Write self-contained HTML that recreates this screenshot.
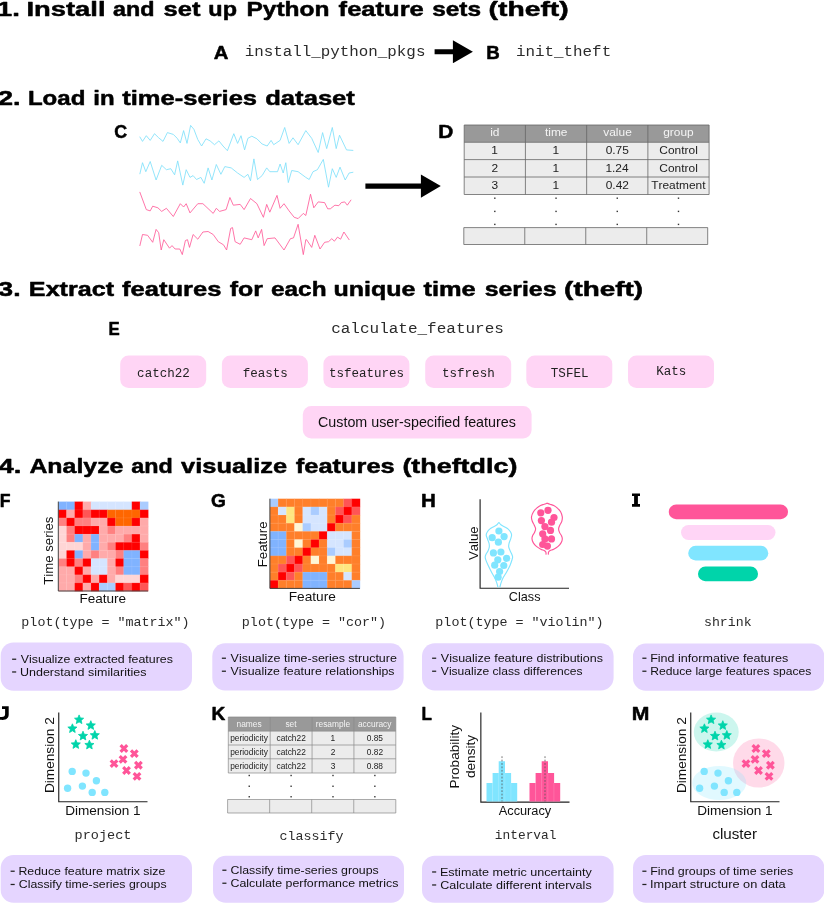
<!DOCTYPE html>
<html><head><meta charset="utf-8"><title>theft workflow</title>
<style>
html,body{margin:0;padding:0;background:#fff;}
body{width:824px;height:907px;overflow:hidden;font-family:"Liberation Sans",sans-serif;}
svg{display:block;will-change:transform;}
text{white-space:pre;font-kerning:none;}
</style></head><body>
<svg width="824" height="907" viewBox="0 0 824 907">
<rect width="824" height="907" fill="#fff"/>
<text transform="translate(-3.16 16.0) scale(1.3427 1)" font-family='"Liberation Sans", sans-serif' font-size="20.6" font-weight="bold" fill="#000" stroke="#000" stroke-width="0.5" stroke-linejoin="round">1.</text>
<text transform="translate(26.47 16.0) scale(1.3279 1)" font-family='"Liberation Sans", sans-serif' font-size="20.6" font-weight="bold" fill="#000" stroke="#000" stroke-width="0.5" stroke-linejoin="round">Install</text>
<text transform="translate(113.05 16.0) scale(1.1341 1)" font-family='"Liberation Sans", sans-serif' font-size="20.6" font-weight="bold" fill="#000" stroke="#000" stroke-width="0.5" stroke-linejoin="round">and</text>
<text transform="translate(163.61 16.0) scale(1.2353 1)" font-family='"Liberation Sans", sans-serif' font-size="20.6" font-weight="bold" fill="#000" stroke="#000" stroke-width="0.5" stroke-linejoin="round">set</text>
<text transform="translate(208.34 16.0) scale(1.1377 1)" font-family='"Liberation Sans", sans-serif' font-size="20.6" font-weight="bold" fill="#000" stroke="#000" stroke-width="0.5" stroke-linejoin="round">up</text>
<text transform="translate(246.40 16.0) scale(1.1913 1)" font-family='"Liberation Sans", sans-serif' font-size="20.6" font-weight="bold" fill="#000" stroke="#000" stroke-width="0.5" stroke-linejoin="round">Python</text>
<text transform="translate(338.62 16.0) scale(1.2413 1)" font-family='"Liberation Sans", sans-serif' font-size="20.6" font-weight="bold" fill="#000" stroke="#000" stroke-width="0.5" stroke-linejoin="round">feature</text>
<text transform="translate(432.15 16.0) scale(1.1852 1)" font-family='"Liberation Sans", sans-serif' font-size="20.6" font-weight="bold" fill="#000" stroke="#000" stroke-width="0.5" stroke-linejoin="round">sets</text>
<text transform="translate(488.59 16.0) scale(1.3730 1)" font-family='"Liberation Sans", sans-serif' font-size="20.6" font-weight="bold" fill="#000" stroke="#000" stroke-width="0.5" stroke-linejoin="round">(theft)</text>
<text transform="translate(-1.95 105.2) scale(1.3133 1)" font-family='"Liberation Sans", sans-serif' font-size="20.6" font-weight="bold" fill="#000" stroke="#000" stroke-width="0.5" stroke-linejoin="round">2.</text>
<text transform="translate(27.94 105.2) scale(1.1678 1)" font-family='"Liberation Sans", sans-serif' font-size="20.6" font-weight="bold" fill="#000" stroke="#000" stroke-width="0.5" stroke-linejoin="round">Load</text>
<text transform="translate(93.32 105.2) scale(1.1657 1)" font-family='"Liberation Sans", sans-serif' font-size="20.6" font-weight="bold" fill="#000" stroke="#000" stroke-width="0.5" stroke-linejoin="round">in</text>
<text transform="translate(122.24 105.2) scale(1.2403 1)" font-family='"Liberation Sans", sans-serif' font-size="20.6" font-weight="bold" fill="#000" stroke="#000" stroke-width="0.5" stroke-linejoin="round">time-series</text>
<text transform="translate(265.23 105.2) scale(1.2435 1)" font-family='"Liberation Sans", sans-serif' font-size="20.6" font-weight="bold" fill="#000" stroke="#000" stroke-width="0.5" stroke-linejoin="round">dataset</text>
<text transform="translate(-1.67 295.6) scale(1.2956 1)" font-family='"Liberation Sans", sans-serif' font-size="20.6" font-weight="bold" fill="#000" stroke="#000" stroke-width="0.5" stroke-linejoin="round">3.</text>
<text transform="translate(28.87 295.6) scale(1.2209 1)" font-family='"Liberation Sans", sans-serif' font-size="20.6" font-weight="bold" fill="#000" stroke="#000" stroke-width="0.5" stroke-linejoin="round">Extract</text>
<text transform="translate(122.12 295.6) scale(1.2405 1)" font-family='"Liberation Sans", sans-serif' font-size="20.6" font-weight="bold" fill="#000" stroke="#000" stroke-width="0.5" stroke-linejoin="round">features</text>
<text transform="translate(229.63 295.6) scale(1.2089 1)" font-family='"Liberation Sans", sans-serif' font-size="20.6" font-weight="bold" fill="#000" stroke="#000" stroke-width="0.5" stroke-linejoin="round">for</text>
<text transform="translate(271.03 295.6) scale(1.1829 1)" font-family='"Liberation Sans", sans-serif' font-size="20.6" font-weight="bold" fill="#000" stroke="#000" stroke-width="0.5" stroke-linejoin="round">each</text>
<text transform="translate(333.50 295.6) scale(1.2136 1)" font-family='"Liberation Sans", sans-serif' font-size="20.6" font-weight="bold" fill="#000" stroke="#000" stroke-width="0.5" stroke-linejoin="round">unique</text>
<text transform="translate(423.50 295.6) scale(1.2347 1)" font-family='"Liberation Sans", sans-serif' font-size="20.6" font-weight="bold" fill="#000" stroke="#000" stroke-width="0.5" stroke-linejoin="round">time</text>
<text transform="translate(484.63 295.6) scale(1.2071 1)" font-family='"Liberation Sans", sans-serif' font-size="20.6" font-weight="bold" fill="#000" stroke="#000" stroke-width="0.5" stroke-linejoin="round">series</text>
<text transform="translate(564.10 295.6) scale(1.3553 1)" font-family='"Liberation Sans", sans-serif' font-size="20.6" font-weight="bold" fill="#000" stroke="#000" stroke-width="0.5" stroke-linejoin="round">(theft)</text>
<text transform="translate(-1.41 473.4) scale(1.3269 1)" font-family='"Liberation Sans", sans-serif' font-size="20.6" font-weight="bold" fill="#000" stroke="#000" stroke-width="0.5" stroke-linejoin="round">4.</text>
<text transform="translate(29.38 473.4) scale(1.2087 1)" font-family='"Liberation Sans", sans-serif' font-size="20.6" font-weight="bold" fill="#000" stroke="#000" stroke-width="0.5" stroke-linejoin="round">Analyze</text>
<text transform="translate(131.30 473.4) scale(1.1341 1)" font-family='"Liberation Sans", sans-serif' font-size="20.6" font-weight="bold" fill="#000" stroke="#000" stroke-width="0.5" stroke-linejoin="round">and</text>
<text transform="translate(181.12 473.4) scale(1.2342 1)" font-family='"Liberation Sans", sans-serif' font-size="20.6" font-weight="bold" fill="#000" stroke="#000" stroke-width="0.5" stroke-linejoin="round">visualize</text>
<text transform="translate(295.87 473.4) scale(1.2342 1)" font-family='"Liberation Sans", sans-serif' font-size="20.6" font-weight="bold" fill="#000" stroke="#000" stroke-width="0.5" stroke-linejoin="round">features</text>
<text transform="translate(402.41 473.4) scale(1.3049 1)" font-family='"Liberation Sans", sans-serif' font-size="20.6" font-weight="bold" fill="#000" stroke="#000" stroke-width="0.5" stroke-linejoin="round">(theftdlc)</text>
<text transform="translate(213.84 58.5) scale(1.1277 1)" font-family='"Liberation Sans", sans-serif' font-size="18" font-weight="bold" fill="#000" stroke="#000" stroke-width="0.5" stroke-linejoin="round">A</text>
<text transform="translate(486.24 58.5) scale(1.0383 1)" font-family='"Liberation Sans", sans-serif' font-size="18" font-weight="bold" fill="#000" stroke="#000" stroke-width="0.5" stroke-linejoin="round">B</text>
<text transform="translate(114.24 138.3) scale(0.9924 1)" font-family='"Liberation Sans", sans-serif' font-size="18" font-weight="bold" fill="#000" stroke="#000" stroke-width="0.5" stroke-linejoin="round">C</text>
<text transform="translate(438.20 138.3) scale(1.1563 1)" font-family='"Liberation Sans", sans-serif' font-size="18" font-weight="bold" fill="#000" stroke="#000" stroke-width="0.5" stroke-linejoin="round">D</text>
<text transform="translate(108.46 335.2) scale(0.9341 1)" font-family='"Liberation Sans", sans-serif' font-size="18" font-weight="bold" fill="#000" stroke="#000" stroke-width="0.5" stroke-linejoin="round">E</text>
<text transform="translate(-0.30 506.7) scale(0.9804 1)" font-family='"Liberation Sans", sans-serif' font-size="18" font-weight="bold" fill="#000" stroke="#000" stroke-width="0.5" stroke-linejoin="round">F</text>
<text transform="translate(210.89 506.7) scale(1.0617 1)" font-family='"Liberation Sans", sans-serif' font-size="18" font-weight="bold" fill="#000" stroke="#000" stroke-width="0.5" stroke-linejoin="round">G</text>
<text transform="translate(421.02 506.7) scale(1.1394 1)" font-family='"Liberation Sans", sans-serif' font-size="18" font-weight="bold" fill="#000" stroke="#000" stroke-width="0.5" stroke-linejoin="round">H</text>
<path d="M632 493.5h8v2.6h-2.1v8h2.1v2.6h-8v-2.6h2.1v-8h-2.1z" fill="#000"/>
<path d="M2 706.3H8.7V714.6C8.7 718.4 6.2 719.9 2.6 719.9C1 719.9-1 719.7-2 719.4V716.6C-1 716.9 0.4 717.1 1.7 717.1C4.2 717.1 5.1 716.1 5.1 714.1V708.9H2Z" fill="#000"/>
<text transform="translate(211.51 719.7) scale(1.0594 1)" font-family='"Liberation Sans", sans-serif' font-size="18" font-weight="bold" fill="#000" stroke="#000" stroke-width="0.5" stroke-linejoin="round">K</text>
<text transform="translate(421.54 719.7) scale(0.9493 1)" font-family='"Liberation Sans", sans-serif' font-size="18" font-weight="bold" fill="#000" stroke="#000" stroke-width="0.5" stroke-linejoin="round">L</text>
<text transform="translate(631.78 719.7) scale(1.1746 1)" font-family='"Liberation Sans", sans-serif' font-size="18" font-weight="bold" fill="#000" stroke="#000" stroke-width="0.5" stroke-linejoin="round">M</text>
<text transform="translate(244.69 55.7) scale(1.0578 1)" font-family='"Liberation Mono", monospace' font-size="15" font-weight="normal" fill="#2b2b2b">install_python_pkgs</text>
<text transform="translate(515.89 55.7) scale(1.0598 1)" font-family='"Liberation Mono", monospace' font-size="15" font-weight="normal" fill="#2b2b2b">init_theft</text>
<path d="M434.6 49.349999999999994H452.9V40.3L472.9 51.8L452.9 63.3V54.25H434.6z" fill="#000"/>
<path d="M365.4 183.54999999999998H420.9V174.5L440.8 186.1L420.9 197.7V188.65H365.4z" fill="#000"/>
<polyline points="139.9,137.0 142.5,141.4 146.3,135.7 150.2,140.4 154.5,133.7 158.7,137.8 163.0,141.4 167.4,132.6 173.3,134.4 177.2,138.3 180.3,142.9 183.6,130.6 187.0,143.4 190.6,125.4 193.9,129.3 197.8,139.6 201.6,146.0 206.0,138.8 210.1,140.9 214.5,144.7 218.9,140.9 223.0,146.0 227.4,150.7 233.8,133.7 237.6,143.4 241.0,135.7 244.6,149.9 247.9,138.3 251.8,136.2 256.9,138.8 262.1,144.0 267.2,146.0 271.1,140.4 273.7,144.7 280.1,140.4 284.7,127.5 289.1,143.4 293.0,137.8 298.1,144.7 305.8,130.6 311.7,138.3 318.2,152.5 322.6,132.6 326.7,148.6 332.3,127.5 336.2,148.6 339.5,135.2 346.5,149.9 352.9,150.4" fill="none" stroke="#7fe0fa" stroke-width="0.85" stroke-linejoin="round" stroke-linecap="round"/>
<polyline points="139.9,173.8 142.5,162.7 145.8,171.7 150.2,161.5 156.1,180.0 161.7,165.3 166.4,169.7 170.8,168.7 174.6,174.8 177.7,160.9 182.8,185.1 186.2,169.7 190.0,177.4 193.1,175.6 196.5,179.5 200.9,177.4 204.2,183.3 208.1,167.9 211.9,180.0 216.3,164.5 220.9,174.3 224.8,166.6 231.2,167.9 237.6,173.0 244.1,177.4 247.9,174.3 250.5,180.8 253.9,158.9 257.5,179.5 262.1,175.6 266.7,167.9 269.8,171.7 277.5,171.7 280.1,164.0 283.2,173.0 285.8,162.7 288.3,182.6 291.7,170.5 298.1,171.7 305.8,177.4 309.2,179.5 313.0,171.7 317.4,169.7 323.3,159.4 328.5,187.2 332.3,168.7 336.2,177.4 340.0,167.1 345.2,180.0 349.1,173.0 352.9,172.3" fill="none" stroke="#7fe0fa" stroke-width="0.85" stroke-linejoin="round" stroke-linecap="round"/>
<polyline points="139.9,192.3 146.3,209.6 150.2,210.9 152.7,206.2 157.9,207.8 161.7,211.4 166.4,208.3 173.3,216.5 180.3,203.7 183.6,207.0 186.2,203.7 190.0,212.9 197.8,203.7 202.9,203.7 213.2,213.4 216.3,208.3 219.6,211.4 226.1,209.6 229.9,197.5 233.3,205.2 240.2,204.4 244.1,209.6 250.5,198.5 256.9,203.7 263.4,217.3 266.7,204.4 269.8,212.2 277.0,195.4 280.1,208.3 284.0,203.7 289.1,210.9 294.2,217.3 298.1,218.6 303.3,213.4 305.8,215.5 310.5,194.2 313.8,207.8 318.2,201.9 324.6,202.6 327.7,208.8 330.3,208.8 334.9,205.2 338.8,205.7 341.3,202.6 344.7,201.9 347.3,205.2 350.9,200.1" fill="none" stroke="#ff5c9a" stroke-width="0.85" stroke-linejoin="round" stroke-linecap="round"/>
<polyline points="139.9,245.6 142.5,234.5 147.6,235.3 152.7,242.3 156.1,229.4 158.7,232.7 161.2,250.0 163.8,239.7 169.5,248.2 172.0,245.6 175.1,249.0 179.8,249.0 182.3,254.6 185.4,240.5 187.5,239.7 189.5,247.4 193.1,234.5 197.8,239.2 202.9,232.0 208.1,231.5 213.2,234.5 218.3,241.7 223.5,244.8 226.6,250.0 230.7,228.4 232.5,227.6 235.1,241.7 240.2,244.3 244.1,237.9 251.8,239.7 255.7,230.9 258.2,237.9 261.6,229.4 264.1,245.6 267.2,238.7 275.0,237.9 284.0,250.0 290.4,238.7 293.5,237.9 298.1,224.3 303.3,254.6 305.8,239.7 306.6,239.7 311.7,247.4 314.8,235.3 320.0,249.0 324.6,242.3 328.5,241.7 331.8,238.7 334.4,241.2 337.5,237.1 340.6,239.2 343.9,232.0 349.1,239.7" fill="none" stroke="#ff5c9a" stroke-width="0.85" stroke-linejoin="round" stroke-linecap="round"/>
<rect x="464.2" y="125" width="244.90000000000003" height="17.30000000000001" fill="#999"/>
<rect x="464.2" y="142.3" width="244.90000000000003" height="52.19999999999999" fill="#ececec"/>
<rect x="463.8" y="227.6" width="243.90000000000003" height="16.900000000000006" fill="#ececec"/>
<path d="M464.2 125H709.1M464.2 142.3H709.1M464.2 159.6H709.1M464.2 177H709.1M464.2 194.5H709.1M464.20 125V194.5M525.42 125V194.5M586.65 125V194.5M647.88 125V194.5M709.10 125V194.5M463.8 227.6H707.7M463.8 244.5H707.7M463.80 227.6V244.5M524.77 227.6V244.5M585.75 227.6V244.5M646.73 227.6V244.5M707.70 227.6V244.5" stroke="#666" stroke-width="0.8" fill="none"/>
<text transform="translate(490.19 136.4) scale(1.1700 1)" font-family='"Liberation Sans", sans-serif' font-size="10.2" font-weight="normal" fill="#f4f4f4">id</text>
<text transform="translate(544.94 136.4) scale(1.1700 1)" font-family='"Liberation Sans", sans-serif' font-size="10.2" font-weight="normal" fill="#f4f4f4">time</text>
<text transform="translate(603.27 136.4) scale(1.1700 1)" font-family='"Liberation Sans", sans-serif' font-size="10.2" font-weight="normal" fill="#f4f4f4">value</text>
<text transform="translate(663.24 136.4) scale(1.1700 1)" font-family='"Liberation Sans", sans-serif' font-size="10.2" font-weight="normal" fill="#f4f4f4">group</text>
<text transform="translate(491.32 154.1) scale(1.1700 1)" font-family='"Liberation Sans", sans-serif' font-size="10.2" font-weight="normal" fill="#222">1</text>
<text transform="translate(552.55 154.1) scale(1.1700 1)" font-family='"Liberation Sans", sans-serif' font-size="10.2" font-weight="normal" fill="#222">1</text>
<text transform="translate(605.66 154.1) scale(1.1700 1)" font-family='"Liberation Sans", sans-serif' font-size="10.2" font-weight="normal" fill="#222">0.75</text>
<text transform="translate(659.36 154.1) scale(1.1700 1)" font-family='"Liberation Sans", sans-serif' font-size="10.2" font-weight="normal" fill="#222">Control</text>
<text transform="translate(491.50 171.6) scale(1.1700 1)" font-family='"Liberation Sans", sans-serif' font-size="10.2" font-weight="normal" fill="#222">2</text>
<text transform="translate(552.55 171.6) scale(1.1700 1)" font-family='"Liberation Sans", sans-serif' font-size="10.2" font-weight="normal" fill="#222">1</text>
<text transform="translate(605.39 171.6) scale(1.1700 1)" font-family='"Liberation Sans", sans-serif' font-size="10.2" font-weight="normal" fill="#222">1.24</text>
<text transform="translate(659.36 171.6) scale(1.1700 1)" font-family='"Liberation Sans", sans-serif' font-size="10.2" font-weight="normal" fill="#222">Control</text>
<text transform="translate(491.50 189.2) scale(1.1700 1)" font-family='"Liberation Sans", sans-serif' font-size="10.2" font-weight="normal" fill="#222">3</text>
<text transform="translate(552.55 189.2) scale(1.1700 1)" font-family='"Liberation Sans", sans-serif' font-size="10.2" font-weight="normal" fill="#222">1</text>
<text transform="translate(605.72 189.2) scale(1.1700 1)" font-family='"Liberation Sans", sans-serif' font-size="10.2" font-weight="normal" fill="#222">0.42</text>
<text transform="translate(651.22 189.2) scale(1.1700 1)" font-family='"Liberation Sans", sans-serif' font-size="10.2" font-weight="normal" fill="#222">Treatment</text>
<rect x="494.11" y="197.50" width="1.4" height="1.4" fill="#333"/>
<rect x="555.34" y="197.50" width="1.4" height="1.4" fill="#333"/>
<rect x="616.56" y="197.50" width="1.4" height="1.4" fill="#333"/>
<rect x="677.79" y="197.50" width="1.4" height="1.4" fill="#333"/>
<rect x="494.11" y="210.70" width="1.4" height="1.4" fill="#333"/>
<rect x="555.34" y="210.70" width="1.4" height="1.4" fill="#333"/>
<rect x="616.56" y="210.70" width="1.4" height="1.4" fill="#333"/>
<rect x="677.79" y="210.70" width="1.4" height="1.4" fill="#333"/>
<rect x="494.11" y="223.70" width="1.4" height="1.4" fill="#333"/>
<rect x="555.34" y="223.70" width="1.4" height="1.4" fill="#333"/>
<rect x="616.56" y="223.70" width="1.4" height="1.4" fill="#333"/>
<rect x="677.79" y="223.70" width="1.4" height="1.4" fill="#333"/>
<text transform="translate(331.16 332.7) scale(1.0459 1)" font-family='"Liberation Mono", monospace' font-size="15.3" font-weight="normal" fill="#2b2b2b">calculate_features</text>
<rect x="120.2" y="355.4" width="86" height="32.7" rx="8.5" fill="#ffd5f5"/>
<text transform="translate(137.11 376.5) scale(0.9150 1)" font-family='"Liberation Mono", monospace' font-size="13.7" font-weight="normal" fill="#222">catch22</text>
<rect x="221.9" y="355.4" width="86" height="32.7" rx="8.5" fill="#ffd5f5"/>
<text transform="translate(242.63 376.5) scale(0.9150 1)" font-family='"Liberation Mono", monospace' font-size="13.7" font-weight="normal" fill="#222">feasts</text>
<rect x="323.4" y="355.4" width="86" height="32.7" rx="8.5" fill="#ffd5f5"/>
<text transform="translate(328.93 376.5) scale(0.9150 1)" font-family='"Liberation Mono", monospace' font-size="13.7" font-weight="normal" fill="#222">tsfeatures</text>
<rect x="425.2" y="355.4" width="86" height="32.7" rx="8.5" fill="#ffd5f5"/>
<text transform="translate(442.04 376.5) scale(0.9150 1)" font-family='"Liberation Mono", monospace' font-size="13.7" font-weight="normal" fill="#222">tsfresh</text>
<rect x="526.3" y="355.4" width="86" height="32.7" rx="8.5" fill="#ffd5f5"/>
<text transform="translate(550.85 376.5) scale(0.9150 1)" font-family='"Liberation Mono", monospace' font-size="13.7" font-weight="normal" fill="#222">TSFEL</text>
<rect x="628" y="355.4" width="86" height="32.7" rx="8.5" fill="#ffd5f5"/>
<text transform="translate(656.16 374.7) scale(0.9150 1)" font-family='"Liberation Mono", monospace' font-size="13.7" font-weight="normal" fill="#222">Kats</text>
<rect x="302.8" y="406.1" width="228.8" height="32.3" rx="8.5" fill="#ffd5f5"/>
<text transform="translate(317.98 426.9) scale(1.0225 1)" font-family='"Liberation Sans", sans-serif' font-size="14" font-weight="normal" fill="#111">Custom user-specified features</text>
<rect x="58.30" y="501.60" width="8.46" height="8.43" fill="#80b3ff"/>
<rect x="66.46" y="501.60" width="8.46" height="8.43" fill="#80b3ff"/>
<rect x="74.63" y="501.60" width="8.46" height="8.43" fill="#ff0000"/>
<rect x="82.79" y="501.60" width="8.46" height="8.43" fill="#ffaaaa"/>
<rect x="90.95" y="501.60" width="8.46" height="8.43" fill="#d5e5ff"/>
<rect x="99.12" y="501.60" width="8.46" height="8.43" fill="#d5e5ff"/>
<rect x="107.28" y="501.60" width="8.46" height="8.43" fill="#d5e5ff"/>
<rect x="115.45" y="501.60" width="8.46" height="8.43" fill="#d5e5ff"/>
<rect x="123.61" y="501.60" width="8.46" height="8.43" fill="#d5e5ff"/>
<rect x="131.77" y="501.60" width="8.46" height="8.43" fill="#ff0000"/>
<rect x="139.94" y="501.60" width="8.46" height="8.43" fill="#aaccff"/>
<rect x="58.30" y="509.73" width="8.46" height="8.43" fill="#ff0000"/>
<rect x="66.46" y="509.73" width="8.46" height="8.43" fill="#ffaaaa"/>
<rect x="74.63" y="509.73" width="8.46" height="8.43" fill="#ff0000"/>
<rect x="82.79" y="509.73" width="8.46" height="8.43" fill="#ff5555"/>
<rect x="90.95" y="509.73" width="8.46" height="8.43" fill="#ff0000"/>
<rect x="99.12" y="509.73" width="8.46" height="8.43" fill="#ff0000"/>
<rect x="107.28" y="509.73" width="8.46" height="8.43" fill="#ff6600"/>
<rect x="115.45" y="509.73" width="8.46" height="8.43" fill="#ff6600"/>
<rect x="123.61" y="509.73" width="8.46" height="8.43" fill="#ff6600"/>
<rect x="131.77" y="509.73" width="8.46" height="8.43" fill="#ff6600"/>
<rect x="139.94" y="509.73" width="8.46" height="8.43" fill="#ff0000"/>
<rect x="58.30" y="517.85" width="8.46" height="8.43" fill="#ff8080"/>
<rect x="66.46" y="517.85" width="8.46" height="8.43" fill="#ff0000"/>
<rect x="74.63" y="517.85" width="8.46" height="8.43" fill="#ff8080"/>
<rect x="82.79" y="517.85" width="8.46" height="8.43" fill="#ff8080"/>
<rect x="90.95" y="517.85" width="8.46" height="8.43" fill="#ffaaaa"/>
<rect x="99.12" y="517.85" width="8.46" height="8.43" fill="#ffaaaa"/>
<rect x="107.28" y="517.85" width="8.46" height="8.43" fill="#ff0000"/>
<rect x="115.45" y="517.85" width="8.46" height="8.43" fill="#ff6600"/>
<rect x="123.61" y="517.85" width="8.46" height="8.43" fill="#ff6600"/>
<rect x="131.77" y="517.85" width="8.46" height="8.43" fill="#ff0000"/>
<rect x="139.94" y="517.85" width="8.46" height="8.43" fill="#ffaaaa"/>
<rect x="58.30" y="525.98" width="8.46" height="8.43" fill="#ffd5d5"/>
<rect x="66.46" y="525.98" width="8.46" height="8.43" fill="#ff8080"/>
<rect x="74.63" y="525.98" width="8.46" height="8.43" fill="#ff0000"/>
<rect x="82.79" y="525.98" width="8.46" height="8.43" fill="#ff0000"/>
<rect x="90.95" y="525.98" width="8.46" height="8.43" fill="#ff0000"/>
<rect x="99.12" y="525.98" width="8.46" height="8.43" fill="#ffaaaa"/>
<rect x="107.28" y="525.98" width="8.46" height="8.43" fill="#ff8080"/>
<rect x="115.45" y="525.98" width="8.46" height="8.43" fill="#ffaaaa"/>
<rect x="123.61" y="525.98" width="8.46" height="8.43" fill="#ffaaaa"/>
<rect x="131.77" y="525.98" width="8.46" height="8.43" fill="#ffaaaa"/>
<rect x="139.94" y="525.98" width="8.46" height="8.43" fill="#ffaaaa"/>
<rect x="58.30" y="534.11" width="8.46" height="8.43" fill="#ffd5d5"/>
<rect x="66.46" y="534.11" width="8.46" height="8.43" fill="#ff8080"/>
<rect x="74.63" y="534.11" width="8.46" height="8.43" fill="#80b3ff"/>
<rect x="82.79" y="534.11" width="8.46" height="8.43" fill="#ffaaaa"/>
<rect x="90.95" y="534.11" width="8.46" height="8.43" fill="#80b3ff"/>
<rect x="99.12" y="534.11" width="8.46" height="8.43" fill="#ffaaaa"/>
<rect x="107.28" y="534.11" width="8.46" height="8.43" fill="#ffaaaa"/>
<rect x="115.45" y="534.11" width="8.46" height="8.43" fill="#ffaaaa"/>
<rect x="123.61" y="534.11" width="8.46" height="8.43" fill="#ff8080"/>
<rect x="131.77" y="534.11" width="8.46" height="8.43" fill="#ff0000"/>
<rect x="139.94" y="534.11" width="8.46" height="8.43" fill="#ffaaaa"/>
<rect x="58.30" y="542.24" width="8.46" height="8.43" fill="#ffd5d5"/>
<rect x="66.46" y="542.24" width="8.46" height="8.43" fill="#ffd5d5"/>
<rect x="74.63" y="542.24" width="8.46" height="8.43" fill="#ffd5d5"/>
<rect x="82.79" y="542.24" width="8.46" height="8.43" fill="#ffaaaa"/>
<rect x="90.95" y="542.24" width="8.46" height="8.43" fill="#80b3ff"/>
<rect x="99.12" y="542.24" width="8.46" height="8.43" fill="#ffaaaa"/>
<rect x="107.28" y="542.24" width="8.46" height="8.43" fill="#ff8080"/>
<rect x="115.45" y="542.24" width="8.46" height="8.43" fill="#ff0000"/>
<rect x="123.61" y="542.24" width="8.46" height="8.43" fill="#ff0000"/>
<rect x="131.77" y="542.24" width="8.46" height="8.43" fill="#ff0000"/>
<rect x="139.94" y="542.24" width="8.46" height="8.43" fill="#ff8080"/>
<rect x="58.30" y="550.36" width="8.46" height="8.43" fill="#ffd5d5"/>
<rect x="66.46" y="550.36" width="8.46" height="8.43" fill="#ff0000"/>
<rect x="74.63" y="550.36" width="8.46" height="8.43" fill="#80b3ff"/>
<rect x="82.79" y="550.36" width="8.46" height="8.43" fill="#ffaaaa"/>
<rect x="90.95" y="550.36" width="8.46" height="8.43" fill="#ff8080"/>
<rect x="99.12" y="550.36" width="8.46" height="8.43" fill="#ffaaaa"/>
<rect x="107.28" y="550.36" width="8.46" height="8.43" fill="#ffaaaa"/>
<rect x="115.45" y="550.36" width="8.46" height="8.43" fill="#ff8080"/>
<rect x="123.61" y="550.36" width="8.46" height="8.43" fill="#80b3ff"/>
<rect x="131.77" y="550.36" width="8.46" height="8.43" fill="#80b3ff"/>
<rect x="139.94" y="550.36" width="8.46" height="8.43" fill="#ff0000"/>
<rect x="58.30" y="558.49" width="8.46" height="8.43" fill="#ff8080"/>
<rect x="66.46" y="558.49" width="8.46" height="8.43" fill="#ff0000"/>
<rect x="74.63" y="558.49" width="8.46" height="8.43" fill="#ff8080"/>
<rect x="82.79" y="558.49" width="8.46" height="8.43" fill="#ff0000"/>
<rect x="90.95" y="558.49" width="8.46" height="8.43" fill="#d5e5ff"/>
<rect x="99.12" y="558.49" width="8.46" height="8.43" fill="#d5e5ff"/>
<rect x="107.28" y="558.49" width="8.46" height="8.43" fill="#ffaaaa"/>
<rect x="115.45" y="558.49" width="8.46" height="8.43" fill="#ff0000"/>
<rect x="123.61" y="558.49" width="8.46" height="8.43" fill="#80b3ff"/>
<rect x="131.77" y="558.49" width="8.46" height="8.43" fill="#80b3ff"/>
<rect x="139.94" y="558.49" width="8.46" height="8.43" fill="#ff8080"/>
<rect x="58.30" y="566.62" width="8.46" height="8.43" fill="#ffaaaa"/>
<rect x="66.46" y="566.62" width="8.46" height="8.43" fill="#ffaaaa"/>
<rect x="74.63" y="566.62" width="8.46" height="8.43" fill="#ff0000"/>
<rect x="82.79" y="566.62" width="8.46" height="8.43" fill="#ffaaaa"/>
<rect x="90.95" y="566.62" width="8.46" height="8.43" fill="#d5e5ff"/>
<rect x="99.12" y="566.62" width="8.46" height="8.43" fill="#d5e5ff"/>
<rect x="107.28" y="566.62" width="8.46" height="8.43" fill="#ffaaaa"/>
<rect x="115.45" y="566.62" width="8.46" height="8.43" fill="#ff8080"/>
<rect x="123.61" y="566.62" width="8.46" height="8.43" fill="#80b3ff"/>
<rect x="131.77" y="566.62" width="8.46" height="8.43" fill="#80b3ff"/>
<rect x="139.94" y="566.62" width="8.46" height="8.43" fill="#ff8080"/>
<rect x="58.30" y="574.75" width="8.46" height="8.43" fill="#ffaaaa"/>
<rect x="66.46" y="574.75" width="8.46" height="8.43" fill="#ffaaaa"/>
<rect x="74.63" y="574.75" width="8.46" height="8.43" fill="#ff8080"/>
<rect x="82.79" y="574.75" width="8.46" height="8.43" fill="#ff0000"/>
<rect x="90.95" y="574.75" width="8.46" height="8.43" fill="#ffaaaa"/>
<rect x="99.12" y="574.75" width="8.46" height="8.43" fill="#ff0000"/>
<rect x="107.28" y="574.75" width="8.46" height="8.43" fill="#ffaaaa"/>
<rect x="115.45" y="574.75" width="8.46" height="8.43" fill="#ffd5d5"/>
<rect x="123.61" y="574.75" width="8.46" height="8.43" fill="#ffd5d5"/>
<rect x="131.77" y="574.75" width="8.46" height="8.43" fill="#ffd5d5"/>
<rect x="139.94" y="574.75" width="8.46" height="8.43" fill="#ff0000"/>
<rect x="58.30" y="582.87" width="8.46" height="8.43" fill="#ffaaaa"/>
<rect x="66.46" y="582.87" width="8.46" height="8.43" fill="#ffaaaa"/>
<rect x="74.63" y="582.87" width="8.46" height="8.43" fill="#ff0000"/>
<rect x="82.79" y="582.87" width="8.46" height="8.43" fill="#ffaaaa"/>
<rect x="90.95" y="582.87" width="8.46" height="8.43" fill="#ff0000"/>
<rect x="99.12" y="582.87" width="8.46" height="8.43" fill="#aaccff"/>
<rect x="107.28" y="582.87" width="8.46" height="8.43" fill="#aaccff"/>
<rect x="115.45" y="582.87" width="8.46" height="8.43" fill="#ff0000"/>
<rect x="123.61" y="582.87" width="8.46" height="8.43" fill="#ff5555"/>
<rect x="131.77" y="582.87" width="8.46" height="8.43" fill="#ff0000"/>
<rect x="139.94" y="582.87" width="8.46" height="8.43" fill="#ff5555"/>
<path d="M66.46 501.6V591M58.3 509.73H148.1M74.63 501.6V591M58.3 517.85H148.1M82.79 501.6V591M58.3 525.98H148.1M90.95 501.6V591M58.3 534.11H148.1M99.12 501.6V591M58.3 542.24H148.1M107.28 501.6V591M58.3 550.36H148.1M115.45 501.6V591M58.3 558.49H148.1M123.61 501.6V591M58.3 566.62H148.1M131.77 501.6V591M58.3 574.75H148.1M139.94 501.6V591M58.3 582.87H148.1" stroke="#fff" stroke-opacity="0.18" stroke-width="0.5" fill="none"/>
<path d="M58.3 501.6V591H148.1" stroke="#444" stroke-width="1" fill="none"/>
<text transform="translate(79.42 602.5) scale(1.1295 1)" font-family='"Liberation Sans", sans-serif' font-size="12" font-weight="normal" fill="#111">Feature</text>
<text transform="translate(53 584.76) rotate(-90) scale(1.1008 1)" font-family='"Liberation Sans", sans-serif' font-size="12" font-weight="normal" fill="#111">Time series</text>
<text transform="translate(21.36 625.5) scale(0.9824 1)" font-family='"Liberation Mono", monospace' font-size="13.6" font-weight="normal" fill="#2b2b2b">plot(type = &quot;matrix&quot;)</text>
<rect x="269.90" y="498.70" width="8.48" height="8.45" fill="#aaccff"/>
<rect x="278.08" y="498.70" width="8.48" height="8.45" fill="#ff7f2a"/>
<rect x="286.26" y="498.70" width="8.48" height="8.45" fill="#ff7f2a"/>
<rect x="294.45" y="498.70" width="8.48" height="8.45" fill="#ff7f2a"/>
<rect x="302.63" y="498.70" width="8.48" height="8.45" fill="#ff7f2a"/>
<rect x="310.81" y="498.70" width="8.48" height="8.45" fill="#ff7f2a"/>
<rect x="318.99" y="498.70" width="8.48" height="8.45" fill="#ff7f2a"/>
<rect x="327.17" y="498.70" width="8.48" height="8.45" fill="#ff7f2a"/>
<rect x="335.35" y="498.70" width="8.48" height="8.45" fill="#ff7f2a"/>
<rect x="343.54" y="498.70" width="8.48" height="8.45" fill="#ff5555"/>
<rect x="351.72" y="498.70" width="8.48" height="8.45" fill="#ff0000"/>
<rect x="269.90" y="506.85" width="8.48" height="8.45" fill="#ff7f2a"/>
<rect x="278.08" y="506.85" width="8.48" height="8.45" fill="#d5e5ff"/>
<rect x="286.26" y="506.85" width="8.48" height="8.45" fill="#ffe680"/>
<rect x="294.45" y="506.85" width="8.48" height="8.45" fill="#ff7f2a"/>
<rect x="302.63" y="506.85" width="8.48" height="8.45" fill="#d5e5ff"/>
<rect x="310.81" y="506.85" width="8.48" height="8.45" fill="#aaccff"/>
<rect x="318.99" y="506.85" width="8.48" height="8.45" fill="#d5e5ff"/>
<rect x="327.17" y="506.85" width="8.48" height="8.45" fill="#ff7f2a"/>
<rect x="335.35" y="506.85" width="8.48" height="8.45" fill="#ff5555"/>
<rect x="343.54" y="506.85" width="8.48" height="8.45" fill="#ff0000"/>
<rect x="351.72" y="506.85" width="8.48" height="8.45" fill="#ff5555"/>
<rect x="269.90" y="515.01" width="8.48" height="8.45" fill="#ff7f2a"/>
<rect x="278.08" y="515.01" width="8.48" height="8.45" fill="#ff7f2a"/>
<rect x="286.26" y="515.01" width="8.48" height="8.45" fill="#ffe680"/>
<rect x="294.45" y="515.01" width="8.48" height="8.45" fill="#ff7f2a"/>
<rect x="302.63" y="515.01" width="8.48" height="8.45" fill="#d5e5ff"/>
<rect x="310.81" y="515.01" width="8.48" height="8.45" fill="#d5e5ff"/>
<rect x="318.99" y="515.01" width="8.48" height="8.45" fill="#d5e5ff"/>
<rect x="327.17" y="515.01" width="8.48" height="8.45" fill="#ff7f2a"/>
<rect x="335.35" y="515.01" width="8.48" height="8.45" fill="#ff0000"/>
<rect x="343.54" y="515.01" width="8.48" height="8.45" fill="#ff5555"/>
<rect x="351.72" y="515.01" width="8.48" height="8.45" fill="#ff7f2a"/>
<rect x="269.90" y="523.16" width="8.48" height="8.45" fill="#ff7f2a"/>
<rect x="278.08" y="523.16" width="8.48" height="8.45" fill="#ff7f2a"/>
<rect x="286.26" y="523.16" width="8.48" height="8.45" fill="#ff7f2a"/>
<rect x="294.45" y="523.16" width="8.48" height="8.45" fill="#fff6d5"/>
<rect x="302.63" y="523.16" width="8.48" height="8.45" fill="#aaccff"/>
<rect x="310.81" y="523.16" width="8.48" height="8.45" fill="#d5e5ff"/>
<rect x="318.99" y="523.16" width="8.48" height="8.45" fill="#d5e5ff"/>
<rect x="327.17" y="523.16" width="8.48" height="8.45" fill="#ff0000"/>
<rect x="335.35" y="523.16" width="8.48" height="8.45" fill="#ff7f2a"/>
<rect x="343.54" y="523.16" width="8.48" height="8.45" fill="#ff7f2a"/>
<rect x="351.72" y="523.16" width="8.48" height="8.45" fill="#ff7f2a"/>
<rect x="269.90" y="531.32" width="8.48" height="8.45" fill="#80b3ff"/>
<rect x="278.08" y="531.32" width="8.48" height="8.45" fill="#80b3ff"/>
<rect x="286.26" y="531.32" width="8.48" height="8.45" fill="#ff7f2a"/>
<rect x="294.45" y="531.32" width="8.48" height="8.45" fill="#ff7f2a"/>
<rect x="302.63" y="531.32" width="8.48" height="8.45" fill="#ff7f2a"/>
<rect x="310.81" y="531.32" width="8.48" height="8.45" fill="#ff7f2a"/>
<rect x="318.99" y="531.32" width="8.48" height="8.45" fill="#ff0000"/>
<rect x="327.17" y="531.32" width="8.48" height="8.45" fill="#d5e5ff"/>
<rect x="335.35" y="531.32" width="8.48" height="8.45" fill="#d5e5ff"/>
<rect x="343.54" y="531.32" width="8.48" height="8.45" fill="#d5e5ff"/>
<rect x="351.72" y="531.32" width="8.48" height="8.45" fill="#ff7f2a"/>
<rect x="269.90" y="539.47" width="8.48" height="8.45" fill="#80b3ff"/>
<rect x="278.08" y="539.47" width="8.48" height="8.45" fill="#80b3ff"/>
<rect x="286.26" y="539.47" width="8.48" height="8.45" fill="#ff7f2a"/>
<rect x="294.45" y="539.47" width="8.48" height="8.45" fill="#fff6d5"/>
<rect x="302.63" y="539.47" width="8.48" height="8.45" fill="#ff7f2a"/>
<rect x="310.81" y="539.47" width="8.48" height="8.45" fill="#ff0000"/>
<rect x="318.99" y="539.47" width="8.48" height="8.45" fill="#ff7f2a"/>
<rect x="327.17" y="539.47" width="8.48" height="8.45" fill="#d5e5ff"/>
<rect x="335.35" y="539.47" width="8.48" height="8.45" fill="#d5e5ff"/>
<rect x="343.54" y="539.47" width="8.48" height="8.45" fill="#aaccff"/>
<rect x="351.72" y="539.47" width="8.48" height="8.45" fill="#ff7f2a"/>
<rect x="269.90" y="547.63" width="8.48" height="8.45" fill="#80b3ff"/>
<rect x="278.08" y="547.63" width="8.48" height="8.45" fill="#80b3ff"/>
<rect x="286.26" y="547.63" width="8.48" height="8.45" fill="#ff7f2a"/>
<rect x="294.45" y="547.63" width="8.48" height="8.45" fill="#ff7f2a"/>
<rect x="302.63" y="547.63" width="8.48" height="8.45" fill="#ff0000"/>
<rect x="310.81" y="547.63" width="8.48" height="8.45" fill="#ff7f2a"/>
<rect x="318.99" y="547.63" width="8.48" height="8.45" fill="#ff7f2a"/>
<rect x="327.17" y="547.63" width="8.48" height="8.45" fill="#aaccff"/>
<rect x="335.35" y="547.63" width="8.48" height="8.45" fill="#d5e5ff"/>
<rect x="343.54" y="547.63" width="8.48" height="8.45" fill="#d5e5ff"/>
<rect x="351.72" y="547.63" width="8.48" height="8.45" fill="#ff7f2a"/>
<rect x="269.90" y="555.78" width="8.48" height="8.45" fill="#ff7f2a"/>
<rect x="278.08" y="555.78" width="8.48" height="8.45" fill="#ff7f2a"/>
<rect x="286.26" y="555.78" width="8.48" height="8.45" fill="#ff5555"/>
<rect x="294.45" y="555.78" width="8.48" height="8.45" fill="#ff0000"/>
<rect x="302.63" y="555.78" width="8.48" height="8.45" fill="#ff7f2a"/>
<rect x="310.81" y="555.78" width="8.48" height="8.45" fill="#fff6d5"/>
<rect x="318.99" y="555.78" width="8.48" height="8.45" fill="#ff7f2a"/>
<rect x="327.17" y="555.78" width="8.48" height="8.45" fill="#fff6d5"/>
<rect x="335.35" y="555.78" width="8.48" height="8.45" fill="#ff7f2a"/>
<rect x="343.54" y="555.78" width="8.48" height="8.45" fill="#ff7f2a"/>
<rect x="351.72" y="555.78" width="8.48" height="8.45" fill="#ff7f2a"/>
<rect x="269.90" y="563.94" width="8.48" height="8.45" fill="#ff7f2a"/>
<rect x="278.08" y="563.94" width="8.48" height="8.45" fill="#ff5555"/>
<rect x="286.26" y="563.94" width="8.48" height="8.45" fill="#ff0000"/>
<rect x="294.45" y="563.94" width="8.48" height="8.45" fill="#ff5555"/>
<rect x="302.63" y="563.94" width="8.48" height="8.45" fill="#ff7f2a"/>
<rect x="310.81" y="563.94" width="8.48" height="8.45" fill="#ff7f2a"/>
<rect x="318.99" y="563.94" width="8.48" height="8.45" fill="#ff7f2a"/>
<rect x="327.17" y="563.94" width="8.48" height="8.45" fill="#ff7f2a"/>
<rect x="335.35" y="563.94" width="8.48" height="8.45" fill="#ffe680"/>
<rect x="343.54" y="563.94" width="8.48" height="8.45" fill="#ffe680"/>
<rect x="351.72" y="563.94" width="8.48" height="8.45" fill="#ff7f2a"/>
<rect x="269.90" y="572.09" width="8.48" height="8.45" fill="#ff7f2a"/>
<rect x="278.08" y="572.09" width="8.48" height="8.45" fill="#ff0000"/>
<rect x="286.26" y="572.09" width="8.48" height="8.45" fill="#ff5555"/>
<rect x="294.45" y="572.09" width="8.48" height="8.45" fill="#ff7f2a"/>
<rect x="302.63" y="572.09" width="8.48" height="8.45" fill="#80b3ff"/>
<rect x="310.81" y="572.09" width="8.48" height="8.45" fill="#80b3ff"/>
<rect x="318.99" y="572.09" width="8.48" height="8.45" fill="#80b3ff"/>
<rect x="327.17" y="572.09" width="8.48" height="8.45" fill="#ff7f2a"/>
<rect x="335.35" y="572.09" width="8.48" height="8.45" fill="#ff7f2a"/>
<rect x="343.54" y="572.09" width="8.48" height="8.45" fill="#d5e5ff"/>
<rect x="351.72" y="572.09" width="8.48" height="8.45" fill="#ff7f2a"/>
<rect x="269.90" y="580.25" width="8.48" height="8.45" fill="#ff0000"/>
<rect x="278.08" y="580.25" width="8.48" height="8.45" fill="#ff7f2a"/>
<rect x="286.26" y="580.25" width="8.48" height="8.45" fill="#ff7f2a"/>
<rect x="294.45" y="580.25" width="8.48" height="8.45" fill="#ff7f2a"/>
<rect x="302.63" y="580.25" width="8.48" height="8.45" fill="#80b3ff"/>
<rect x="310.81" y="580.25" width="8.48" height="8.45" fill="#80b3ff"/>
<rect x="318.99" y="580.25" width="8.48" height="8.45" fill="#80b3ff"/>
<rect x="327.17" y="580.25" width="8.48" height="8.45" fill="#ff7f2a"/>
<rect x="335.35" y="580.25" width="8.48" height="8.45" fill="#ff7f2a"/>
<rect x="343.54" y="580.25" width="8.48" height="8.45" fill="#ff7f2a"/>
<rect x="351.72" y="580.25" width="8.48" height="8.45" fill="#aaccff"/>
<path d="M278.08 498.7V588.4M269.9 506.85H359.9M286.26 498.7V588.4M269.9 515.01H359.9M294.45 498.7V588.4M269.9 523.16H359.9M302.63 498.7V588.4M269.9 531.32H359.9M310.81 498.7V588.4M269.9 539.47H359.9M318.99 498.7V588.4M269.9 547.63H359.9M327.17 498.7V588.4M269.9 555.78H359.9M335.35 498.7V588.4M269.9 563.94H359.9M343.54 498.7V588.4M269.9 572.09H359.9M351.72 498.7V588.4M269.9 580.25H359.9" stroke="#fff" stroke-opacity="0.18" stroke-width="0.5" fill="none"/>
<path d="M269.9 498.7V588.4H359.9" stroke="#444" stroke-width="1" fill="none"/>
<text transform="translate(288.65 600.5) scale(1.1421 1)" font-family='"Liberation Sans", sans-serif' font-size="12" font-weight="normal" fill="#111">Feature</text>
<text transform="translate(266.5 567.37) rotate(-90) scale(1.1119 1)" font-family='"Liberation Sans", sans-serif' font-size="12" font-weight="normal" fill="#111">Feature</text>
<text transform="translate(241.86 625.5) scale(0.9827 1)" font-family='"Liberation Mono", monospace' font-size="13.6" font-weight="normal" fill="#2b2b2b">plot(type = &quot;cor&quot;)</text>
<path d="M480.1 499.2V588.2H569" stroke="#222" stroke-width="1.15" fill="none" stroke-linejoin="miter"/>
<path d="M498.90 522.30C499.23 522.70 500.00 523.98 500.90 524.70C501.80 525.43 503.08 525.92 504.30 526.65C505.52 527.38 507.15 528.21 508.20 529.10C509.25 529.99 510.03 531.02 510.60 532.00C511.17 532.98 511.58 533.87 511.60 535.00C511.62 536.13 511.12 537.43 510.70 538.80C510.28 540.17 509.43 541.85 509.10 543.20C508.77 544.55 508.53 545.65 508.70 546.90C508.87 548.15 509.57 549.43 510.10 550.70C510.63 551.97 511.48 553.45 511.90 554.50C512.32 555.55 512.60 556.07 512.60 557.00C512.60 557.93 512.32 558.73 511.90 560.10C511.48 561.47 510.93 563.30 510.10 565.20C509.27 567.10 508.00 569.52 506.90 571.50C505.80 573.48 504.43 575.33 503.50 577.10C502.57 578.87 501.88 580.53 501.30 582.10C500.72 583.67 500.23 585.62 500.00 586.50C499.77 587.38 499.92 587.25 499.90 587.40M498.90 522.30C498.58 522.70 497.88 523.98 497.00 524.70C496.12 525.43 494.82 525.92 493.60 526.65C492.38 527.38 490.75 528.21 489.70 529.10C488.65 529.99 487.88 531.02 487.30 532.00C486.72 532.98 486.18 533.87 486.20 535.00C486.22 536.13 486.93 537.43 487.40 538.80C487.87 540.17 488.68 541.85 489.00 543.20C489.32 544.55 489.45 545.65 489.30 546.90C489.15 548.15 488.67 549.43 488.10 550.70C487.53 551.97 486.38 553.45 485.90 554.50C485.42 555.55 485.20 556.07 485.20 557.00C485.20 557.93 485.42 558.73 485.90 560.10C486.38 561.47 487.22 563.30 488.10 565.20C488.98 567.10 490.17 569.52 491.20 571.50C492.23 573.48 493.42 575.33 494.30 577.10C495.18 578.87 495.92 580.53 496.50 582.10C497.08 583.67 497.57 585.62 497.80 586.50C498.03 587.38 497.88 587.25 497.90 587.40" fill="none" stroke="#80e5ff" stroke-width="1.15"/>
<path d="M547.05 503.15C547.52 503.34 548.79 503.91 549.90 504.30C551.01 504.69 552.45 504.87 553.70 505.50C554.95 506.13 556.25 507.05 557.40 508.10C558.55 509.15 559.78 510.33 560.60 511.80C561.42 513.27 562.10 515.32 562.30 516.90C562.50 518.48 562.20 519.95 561.80 521.30C561.40 522.65 560.43 523.75 559.90 525.00C559.37 526.25 558.65 527.53 558.60 528.80C558.55 530.07 559.12 531.45 559.60 532.60C560.08 533.75 561.05 534.65 561.50 535.70C561.95 536.75 562.35 537.75 562.30 538.90C562.25 540.05 561.90 541.35 561.20 542.60C560.50 543.85 559.35 545.30 558.10 546.40C556.85 547.50 555.02 548.52 553.70 549.20C552.38 549.88 551.05 550.02 550.20 550.50C549.35 550.98 548.92 551.42 548.60 552.10C548.28 552.78 548.35 554.18 548.30 554.60M547.05 503.15C546.57 503.34 545.29 503.91 544.20 504.30C543.11 504.69 541.75 504.87 540.50 505.50C539.25 506.13 537.87 507.05 536.70 508.10C535.53 509.15 534.37 510.33 533.50 511.80C532.63 513.27 531.70 515.32 531.50 516.90C531.30 518.48 531.85 519.95 532.30 521.30C532.75 522.65 533.65 523.75 534.20 525.00C534.75 526.25 535.55 527.53 535.60 528.80C535.65 530.07 535.00 531.45 534.50 532.60C534.00 533.75 533.02 534.65 532.60 535.70C532.18 536.75 531.90 537.75 532.00 538.90C532.10 540.05 532.47 541.35 533.20 542.60C533.93 543.85 535.13 545.30 536.40 546.40C537.67 547.50 539.50 548.52 540.80 549.20C542.10 549.88 543.37 550.02 544.20 550.50C545.03 550.98 545.48 551.42 545.80 552.10C546.12 552.78 546.05 554.18 546.10 554.60" fill="none" stroke="#ff5599" stroke-width="1.15"/>
<circle cx="498.9" cy="531" r="3.6" fill="#80e5ff"/>
<circle cx="492.2" cy="537.7" r="3.6" fill="#80e5ff"/>
<circle cx="504.1" cy="536.6" r="3.6" fill="#80e5ff"/>
<circle cx="498.4" cy="542.2" r="3.6" fill="#80e5ff"/>
<circle cx="493.4" cy="552.9" r="3.6" fill="#80e5ff"/>
<circle cx="500.9" cy="552" r="3.6" fill="#80e5ff"/>
<circle cx="506.6" cy="558.3" r="3.6" fill="#80e5ff"/>
<circle cx="497.8" cy="559.8" r="3.6" fill="#80e5ff"/>
<circle cx="494.7" cy="565.2" r="3.6" fill="#80e5ff"/>
<circle cx="503.8" cy="565.5" r="3.6" fill="#80e5ff"/>
<circle cx="499.6" cy="571.5" r="3.6" fill="#80e5ff"/>
<circle cx="498.1" cy="577.2" r="3.6" fill="#80e5ff"/>
<circle cx="548" cy="510.3" r="3.6" fill="#ff5599"/>
<circle cx="540.8" cy="512.8" r="3.6" fill="#ff5599"/>
<circle cx="554" cy="517.5" r="3.6" fill="#ff5599"/>
<circle cx="541.4" cy="520.6" r="3.6" fill="#ff5599"/>
<circle cx="551.5" cy="522.2" r="3.6" fill="#ff5599"/>
<circle cx="544.9" cy="526.6" r="3.6" fill="#ff5599"/>
<circle cx="550.5" cy="530.4" r="3.6" fill="#ff5599"/>
<circle cx="542.7" cy="533.8" r="3.6" fill="#ff5599"/>
<circle cx="551.5" cy="538.9" r="3.6" fill="#ff5599"/>
<circle cx="544.9" cy="538.9" r="3.6" fill="#ff5599"/>
<circle cx="542.7" cy="544.5" r="3.6" fill="#ff5599"/>
<circle cx="547.4" cy="546.1" r="3.6" fill="#ff5599"/>
<text transform="translate(508.87 600.5) scale(1.0546 1)" font-family='"Liberation Sans", sans-serif' font-size="12" font-weight="normal" fill="#111">Class</text>
<text transform="translate(477.5 560.07) rotate(-90) scale(1.1000 1)" font-family='"Liberation Sans", sans-serif' font-size="12" font-weight="normal" fill="#111">Value</text>
<text transform="translate(435.36 625.5) scale(0.9824 1)" font-family='"Liberation Mono", monospace' font-size="13.6" font-weight="normal" fill="#2b2b2b">plot(type = &quot;violin&quot;)</text>
<rect x="668.75" y="504.5" width="119.25" height="14.75" rx="7.375" fill="#ff5599"/>
<rect x="681" y="525" width="94.5" height="15" rx="7.5" fill="#ffd5f6"/>
<rect x="688.25" y="545.75" width="80.0" height="14.75" rx="7.375" fill="#80e5ff"/>
<rect x="698" y="566.5" width="60" height="14.75" rx="7.375" fill="#00d4aa"/>
<text transform="translate(703.94 625.5) scale(0.9747 1)" font-family='"Liberation Mono", monospace' font-size="13.6" font-weight="normal" fill="#2b2b2b">shrink</text>
<rect x="0.7" y="642.6" width="191.3" height="48.10000000000002" rx="12.8" fill="#e5d5ff"/>
<rect x="12.10" y="658.60" width="4.1" height="1.25" fill="#222"/>
<text transform="translate(20.84 663) scale(1.1260 1)" font-family='"Liberation Sans", sans-serif' font-size="11" font-weight="normal" fill="#111">Visualize extracted features</text>
<rect x="12.10" y="671.35" width="4.1" height="1.25" fill="#222"/>
<text transform="translate(19.96 675.75) scale(1.1378 1)" font-family='"Liberation Sans", sans-serif' font-size="11" font-weight="normal" fill="#111">Understand similarities</text>
<rect x="212.3" y="643.2" width="191.3" height="47.299999999999955" rx="12.8" fill="#e5d5ff"/>
<rect x="221.85" y="657.60" width="4.1" height="1.25" fill="#222"/>
<text transform="translate(230.59 662) scale(1.1349 1)" font-family='"Liberation Sans", sans-serif' font-size="11" font-weight="normal" fill="#111">Visualize time-series structure</text>
<rect x="221.85" y="670.60" width="4.1" height="1.25" fill="#222"/>
<text transform="translate(230.59 675) scale(1.1224 1)" font-family='"Liberation Sans", sans-serif' font-size="11" font-weight="normal" fill="#111">Visualize feature relationships</text>
<rect x="422" y="643.2" width="191.60000000000002" height="47.299999999999955" rx="12.8" fill="#e5d5ff"/>
<rect x="432.10" y="657.60" width="4.1" height="1.25" fill="#222"/>
<text transform="translate(440.84 662) scale(1.1340 1)" font-family='"Liberation Sans", sans-serif' font-size="11" font-weight="normal" fill="#111">Visualize feature distributions</text>
<rect x="432.10" y="670.60" width="4.1" height="1.25" fill="#222"/>
<text transform="translate(440.84 675) scale(1.0987 1)" font-family='"Liberation Sans", sans-serif' font-size="11" font-weight="normal" fill="#111">Visualize class differences</text>
<rect x="633" y="643.4" width="191.29999999999995" height="47.30000000000007" rx="12.8" fill="#e5d5ff"/>
<rect x="642.35" y="657.60" width="4.1" height="1.25" fill="#222"/>
<text transform="translate(650.14 662) scale(1.1424 1)" font-family='"Liberation Sans", sans-serif' font-size="11" font-weight="normal" fill="#111">Find informative features</text>
<rect x="642.35" y="670.60" width="4.1" height="1.25" fill="#222"/>
<text transform="translate(650.18 675) scale(1.1038 1)" font-family='"Liberation Sans", sans-serif' font-size="11" font-weight="normal" fill="#111">Reduce large features spaces</text>
<rect x="0.7" y="855" width="191.3" height="47.799999999999955" rx="12.8" fill="#e5d5ff"/>
<rect x="10.60" y="870.60" width="4.1" height="1.25" fill="#222"/>
<text transform="translate(18.41 875) scale(1.1246 1)" font-family='"Liberation Sans", sans-serif' font-size="11" font-weight="normal" fill="#111">Reduce feature matrix size</text>
<rect x="10.60" y="883.85" width="4.1" height="1.25" fill="#222"/>
<text transform="translate(18.78 888.25) scale(1.1204 1)" font-family='"Liberation Sans", sans-serif' font-size="11" font-weight="normal" fill="#111">Classify time-series groups</text>
<rect x="213" y="855.7" width="191" height="47.09999999999991" rx="12.8" fill="#e5d5ff"/>
<rect x="222.35" y="869.60" width="4.1" height="1.25" fill="#222"/>
<text transform="translate(230.53 874) scale(1.1243 1)" font-family='"Liberation Sans", sans-serif' font-size="11" font-weight="normal" fill="#111">Classify time-series groups</text>
<rect x="222.35" y="882.60" width="4.1" height="1.25" fill="#222"/>
<text transform="translate(230.53 887) scale(1.1257 1)" font-family='"Liberation Sans", sans-serif' font-size="11" font-weight="normal" fill="#111">Calculate performance metrics</text>
<rect x="422" y="855.7" width="191.60000000000002" height="47.09999999999991" rx="12.8" fill="#e5d5ff"/>
<rect x="432.10" y="871.35" width="4.1" height="1.25" fill="#222"/>
<text transform="translate(439.89 875.75) scale(1.1461 1)" font-family='"Liberation Sans", sans-serif' font-size="11" font-weight="normal" fill="#111">Estimate metric uncertainty</text>
<rect x="432.10" y="884.35" width="4.1" height="1.25" fill="#222"/>
<text transform="translate(440.27 888.75) scale(1.1419 1)" font-family='"Liberation Sans", sans-serif' font-size="11" font-weight="normal" fill="#111">Calculate different intervals</text>
<rect x="633" y="855" width="191.29999999999995" height="47.799999999999955" rx="12.8" fill="#e5d5ff"/>
<rect x="642.35" y="870.60" width="4.1" height="1.25" fill="#222"/>
<text transform="translate(650.15 875) scale(1.1322 1)" font-family='"Liberation Sans", sans-serif' font-size="11" font-weight="normal" fill="#111">Find groups of time series</text>
<rect x="642.35" y="883.85" width="4.1" height="1.25" fill="#222"/>
<text transform="translate(650.00 888.25) scale(1.1631 1)" font-family='"Liberation Sans", sans-serif' font-size="11" font-weight="normal" fill="#111">Impart structure on data</text>
<path d="M58.75 712.5V801.75H147.5" stroke="#222" stroke-width="1.15" fill="none" stroke-linejoin="miter"/>
<polygon points="79.10,714.90 80.39,717.92 83.67,718.22 81.19,720.38 81.92,723.58 79.10,721.90 76.28,723.58 77.01,720.38 74.53,718.22 77.81,717.92" fill="#00d4aa" stroke="#00d4aa" stroke-width="0.8" stroke-linejoin="round"/>
<polygon points="90.80,720.70 92.09,723.72 95.37,724.02 92.89,726.18 93.62,729.38 90.80,727.70 87.98,729.38 88.71,726.18 86.23,724.02 89.51,723.72" fill="#00d4aa" stroke="#00d4aa" stroke-width="0.8" stroke-linejoin="round"/>
<polygon points="72.40,723.80 73.69,726.82 76.97,727.12 74.49,729.28 75.22,732.48 72.40,730.80 69.58,732.48 70.31,729.28 67.83,727.12 71.11,726.82" fill="#00d4aa" stroke="#00d4aa" stroke-width="0.8" stroke-linejoin="round"/>
<polygon points="83.00,731.20 84.29,734.22 87.57,734.52 85.09,736.68 85.82,739.88 83.00,738.20 80.18,739.88 80.91,736.68 78.43,734.52 81.71,734.22" fill="#00d4aa" stroke="#00d4aa" stroke-width="0.8" stroke-linejoin="round"/>
<polygon points="94.80,730.50 96.09,733.52 99.37,733.82 96.89,735.98 97.62,739.18 94.80,737.50 91.98,739.18 92.71,735.98 90.23,733.82 93.51,733.52" fill="#00d4aa" stroke="#00d4aa" stroke-width="0.8" stroke-linejoin="round"/>
<polygon points="75.80,739.70 77.09,742.72 80.37,743.02 77.89,745.18 78.62,748.38 75.80,746.70 72.98,748.38 73.71,745.18 71.23,743.02 74.51,742.72" fill="#00d4aa" stroke="#00d4aa" stroke-width="0.8" stroke-linejoin="round"/>
<polygon points="89.40,740.20 90.69,743.22 93.97,743.52 91.49,745.68 92.22,748.88 89.40,747.20 86.58,748.88 87.31,745.68 84.83,743.52 88.11,743.22" fill="#00d4aa" stroke="#00d4aa" stroke-width="0.8" stroke-linejoin="round"/>
<path d="M120.60 745.20L127.20 751.80M127.20 745.20L120.60 751.80" stroke="#ff5599" stroke-width="3.2" stroke-linecap="butt" fill="none"/>
<path d="M131.00 750.30L137.60 756.90M137.60 750.30L131.00 756.90" stroke="#ff5599" stroke-width="3.2" stroke-linecap="butt" fill="none"/>
<path d="M119.70 756.10L126.30 762.70M126.30 756.10L119.70 762.70" stroke="#ff5599" stroke-width="3.2" stroke-linecap="butt" fill="none"/>
<path d="M110.70 760.30L117.30 766.90M117.30 760.30L110.70 766.90" stroke="#ff5599" stroke-width="3.2" stroke-linecap="butt" fill="none"/>
<path d="M135.10 761.90L141.70 768.50M141.70 761.90L135.10 768.50" stroke="#ff5599" stroke-width="3.2" stroke-linecap="butt" fill="none"/>
<path d="M123.20 767.20L129.80 773.80M129.80 767.20L123.20 773.80" stroke="#ff5599" stroke-width="3.2" stroke-linecap="butt" fill="none"/>
<path d="M133.70 773.10L140.30 779.70M140.30 773.10L133.70 779.70" stroke="#ff5599" stroke-width="3.2" stroke-linecap="butt" fill="none"/>
<circle cx="72.2" cy="771.4" r="3.7" fill="#80e5ff"/>
<circle cx="86" cy="773.1" r="3.7" fill="#80e5ff"/>
<circle cx="96.4" cy="780.7" r="3.7" fill="#80e5ff"/>
<circle cx="67.6" cy="788.3" r="3.7" fill="#80e5ff"/>
<circle cx="82.4" cy="786.1" r="3.7" fill="#80e5ff"/>
<circle cx="92.2" cy="792.4" r="3.7" fill="#80e5ff"/>
<circle cx="104.8" cy="792.4" r="3.7" fill="#80e5ff"/>
<text transform="translate(65.16 814.5) scale(1.1329 1)" font-family='"Liberation Sans", sans-serif' font-size="12" font-weight="normal" fill="#111">Dimension 1</text>
<text transform="translate(53.75 793.09) rotate(-90) scale(1.1378 1)" font-family='"Liberation Sans", sans-serif' font-size="12" font-weight="normal" fill="#111">Dimension 2</text>
<ellipse cx="716.25" cy="732" rx="22.5" ry="19.5" fill="#00d4aa" fill-opacity="0.2"/>
<ellipse cx="758.75" cy="763" rx="25.75" ry="24.5" fill="#ff5599" fill-opacity="0.22"/>
<ellipse cx="719.25" cy="783" rx="27" ry="17" fill="#80e5ff" fill-opacity="0.24"/>
<path d="M690.75 712.5V801.75H779.5" stroke="#222" stroke-width="1.15" fill="none" stroke-linejoin="miter"/>
<polygon points="711.10,714.90 712.39,717.92 715.67,718.22 713.19,720.38 713.92,723.58 711.10,721.90 708.28,723.58 709.01,720.38 706.53,718.22 709.81,717.92" fill="#00d4aa" stroke="#00d4aa" stroke-width="0.8" stroke-linejoin="round"/>
<polygon points="722.80,720.70 724.09,723.72 727.37,724.02 724.89,726.18 725.62,729.38 722.80,727.70 719.98,729.38 720.71,726.18 718.23,724.02 721.51,723.72" fill="#00d4aa" stroke="#00d4aa" stroke-width="0.8" stroke-linejoin="round"/>
<polygon points="704.40,723.80 705.69,726.82 708.97,727.12 706.49,729.28 707.22,732.48 704.40,730.80 701.58,732.48 702.31,729.28 699.83,727.12 703.11,726.82" fill="#00d4aa" stroke="#00d4aa" stroke-width="0.8" stroke-linejoin="round"/>
<polygon points="715.00,731.20 716.29,734.22 719.57,734.52 717.09,736.68 717.82,739.88 715.00,738.20 712.18,739.88 712.91,736.68 710.43,734.52 713.71,734.22" fill="#00d4aa" stroke="#00d4aa" stroke-width="0.8" stroke-linejoin="round"/>
<polygon points="726.80,730.50 728.09,733.52 731.37,733.82 728.89,735.98 729.62,739.18 726.80,737.50 723.98,739.18 724.71,735.98 722.23,733.82 725.51,733.52" fill="#00d4aa" stroke="#00d4aa" stroke-width="0.8" stroke-linejoin="round"/>
<polygon points="707.80,739.70 709.09,742.72 712.37,743.02 709.89,745.18 710.62,748.38 707.80,746.70 704.98,748.38 705.71,745.18 703.23,743.02 706.51,742.72" fill="#00d4aa" stroke="#00d4aa" stroke-width="0.8" stroke-linejoin="round"/>
<polygon points="721.40,740.20 722.69,743.22 725.97,743.52 723.49,745.68 724.22,748.88 721.40,747.20 718.58,748.88 719.31,745.68 716.83,743.52 720.11,743.22" fill="#00d4aa" stroke="#00d4aa" stroke-width="0.8" stroke-linejoin="round"/>
<path d="M752.60 745.20L759.20 751.80M759.20 745.20L752.60 751.80" stroke="#ff5599" stroke-width="3.2" stroke-linecap="butt" fill="none"/>
<path d="M763.00 750.30L769.60 756.90M769.60 750.30L763.00 756.90" stroke="#ff5599" stroke-width="3.2" stroke-linecap="butt" fill="none"/>
<path d="M751.70 756.10L758.30 762.70M758.30 756.10L751.70 762.70" stroke="#ff5599" stroke-width="3.2" stroke-linecap="butt" fill="none"/>
<path d="M742.70 760.30L749.30 766.90M749.30 760.30L742.70 766.90" stroke="#ff5599" stroke-width="3.2" stroke-linecap="butt" fill="none"/>
<path d="M767.10 761.90L773.70 768.50M773.70 761.90L767.10 768.50" stroke="#ff5599" stroke-width="3.2" stroke-linecap="butt" fill="none"/>
<path d="M755.20 767.20L761.80 773.80M761.80 767.20L755.20 773.80" stroke="#ff5599" stroke-width="3.2" stroke-linecap="butt" fill="none"/>
<path d="M765.70 773.10L772.30 779.70M772.30 773.10L765.70 779.70" stroke="#ff5599" stroke-width="3.2" stroke-linecap="butt" fill="none"/>
<circle cx="704.2" cy="771.4" r="3.7" fill="#80e5ff"/>
<circle cx="718" cy="773.1" r="3.7" fill="#80e5ff"/>
<circle cx="728.4" cy="780.7" r="3.7" fill="#80e5ff"/>
<circle cx="699.6" cy="788.3" r="3.7" fill="#80e5ff"/>
<circle cx="714.4" cy="786.1" r="3.7" fill="#80e5ff"/>
<circle cx="724.2" cy="792.4" r="3.7" fill="#80e5ff"/>
<circle cx="736.8" cy="792.4" r="3.7" fill="#80e5ff"/>
<text transform="translate(697.16 814.5) scale(1.1329 1)" font-family='"Liberation Sans", sans-serif' font-size="12" font-weight="normal" fill="#111">Dimension 1</text>
<text transform="translate(685.75 793.09) rotate(-90) scale(1.1378 1)" font-family='"Liberation Sans", sans-serif' font-size="12" font-weight="normal" fill="#111">Dimension 2</text>
<text transform="translate(74.60 838.75) scale(0.9948 1)" font-family='"Liberation Mono", monospace' font-size="13.6" font-weight="normal" fill="#2b2b2b">project</text>
<text transform="translate(712.39 838.75) scale(1.0832 1)" font-family='"Liberation Sans", sans-serif' font-size="14" font-weight="normal" fill="#111">cluster</text>
<rect x="228.3" y="717" width="167.5" height="14.200000000000045" fill="#999"/>
<rect x="228.3" y="731.2" width="167.5" height="41.799999999999955" fill="#ececec"/>
<rect x="227.6" y="799.5" width="168.20000000000002" height="13.5" fill="#ececec"/>
<path d="M228.3 717H395.8M228.3 731.2H395.8M228.3 745H395.8M228.3 758.8H395.8M228.3 773H395.8M228.30 717V773M270.18 717V773M312.05 717V773M353.93 717V773M395.80 717V773M227.6 799.5H395.8M227.6 813H395.8M227.60 799.5V813M269.65 799.5V813M311.70 799.5V813M353.75 799.5V813M395.80 799.5V813" stroke="#888" stroke-width="0.7" fill="none"/>
<text transform="translate(236.56 727) scale(0.9300 1)" font-family='"Liberation Sans", sans-serif' font-size="9" font-weight="normal" fill="#f4f4f4">names</text>
<text transform="translate(285.44 727) scale(0.9300 1)" font-family='"Liberation Sans", sans-serif' font-size="9" font-weight="normal" fill="#f4f4f4">set</text>
<text transform="translate(315.70 727) scale(0.9300 1)" font-family='"Liberation Sans", sans-serif' font-size="9" font-weight="normal" fill="#f4f4f4">resample</text>
<text transform="translate(357.96 727) scale(0.9300 1)" font-family='"Liberation Sans", sans-serif' font-size="9" font-weight="normal" fill="#f4f4f4">accuracy</text>
<text transform="translate(230.15 740.5) scale(0.9300 1)" font-family='"Liberation Sans", sans-serif' font-size="9" font-weight="normal" fill="#222">periodicity</text>
<text transform="translate(276.51 740.5) scale(0.9300 1)" font-family='"Liberation Sans", sans-serif' font-size="9" font-weight="normal" fill="#222">catch22</text>
<text transform="translate(330.54 740.5) scale(0.9300 1)" font-family='"Liberation Sans", sans-serif' font-size="9" font-weight="normal" fill="#222">1</text>
<text transform="translate(366.72 740.5) scale(0.9300 1)" font-family='"Liberation Sans", sans-serif' font-size="9" font-weight="normal" fill="#222">0.85</text>
<text transform="translate(230.15 754.5) scale(0.9300 1)" font-family='"Liberation Sans", sans-serif' font-size="9" font-weight="normal" fill="#222">periodicity</text>
<text transform="translate(276.51 754.5) scale(0.9300 1)" font-family='"Liberation Sans", sans-serif' font-size="9" font-weight="normal" fill="#222">catch22</text>
<text transform="translate(330.66 754.5) scale(0.9300 1)" font-family='"Liberation Sans", sans-serif' font-size="9" font-weight="normal" fill="#222">2</text>
<text transform="translate(366.76 754.5) scale(0.9300 1)" font-family='"Liberation Sans", sans-serif' font-size="9" font-weight="normal" fill="#222">0.82</text>
<text transform="translate(230.15 768.7) scale(0.9300 1)" font-family='"Liberation Sans", sans-serif' font-size="9" font-weight="normal" fill="#222">periodicity</text>
<text transform="translate(276.51 768.7) scale(0.9300 1)" font-family='"Liberation Sans", sans-serif' font-size="9" font-weight="normal" fill="#222">catch22</text>
<text transform="translate(330.66 768.7) scale(0.9300 1)" font-family='"Liberation Sans", sans-serif' font-size="9" font-weight="normal" fill="#222">3</text>
<text transform="translate(366.72 768.7) scale(0.9300 1)" font-family='"Liberation Sans", sans-serif' font-size="9" font-weight="normal" fill="#222">0.88</text>
<rect x="248.54" y="774.80" width="1.4" height="1.4" fill="#333"/>
<rect x="290.41" y="774.80" width="1.4" height="1.4" fill="#333"/>
<rect x="332.29" y="774.80" width="1.4" height="1.4" fill="#333"/>
<rect x="374.16" y="774.80" width="1.4" height="1.4" fill="#333"/>
<rect x="248.54" y="785.55" width="1.4" height="1.4" fill="#333"/>
<rect x="290.41" y="785.55" width="1.4" height="1.4" fill="#333"/>
<rect x="332.29" y="785.55" width="1.4" height="1.4" fill="#333"/>
<rect x="374.16" y="785.55" width="1.4" height="1.4" fill="#333"/>
<rect x="248.54" y="796.05" width="1.4" height="1.4" fill="#333"/>
<rect x="290.41" y="796.05" width="1.4" height="1.4" fill="#333"/>
<rect x="332.29" y="796.05" width="1.4" height="1.4" fill="#333"/>
<rect x="374.16" y="796.05" width="1.4" height="1.4" fill="#333"/>
<text transform="translate(279.38 839.5) scale(0.9817 1)" font-family='"Liberation Mono", monospace' font-size="13.6" font-weight="normal" fill="#2b2b2b">classify</text>
<path d="M480.85 712.5V802.1H569.5" stroke="#222" stroke-width="1.15" fill="none" stroke-linejoin="miter"/>
<rect x="486.50" y="783" width="6.3" height="18.5" fill="#80e5ff"/>
<rect x="492.60" y="773" width="6.3" height="28.5" fill="#80e5ff"/>
<rect x="498.70" y="761.25" width="6.3" height="40.25" fill="#80e5ff"/>
<rect x="504.80" y="773" width="6.3" height="28.5" fill="#80e5ff"/>
<rect x="510.90" y="783" width="6.3" height="18.5" fill="#80e5ff"/>
<path d="M492.60 783V801.5M498.70 773V801.5M504.80 773V801.5M510.90 783V801.5" stroke="#fff" stroke-opacity="0.3" stroke-width="0.5"/>
<path d="M502 756.25V801.5" stroke="#555" stroke-width="0.8" stroke-dasharray="1.8 1.6"/>
<rect x="529.50" y="783" width="6.3" height="18.5" fill="#ff5599"/>
<rect x="535.60" y="773" width="6.3" height="28.5" fill="#ff5599"/>
<rect x="541.70" y="761.25" width="6.3" height="40.25" fill="#ff5599"/>
<rect x="547.80" y="773" width="6.3" height="28.5" fill="#ff5599"/>
<rect x="553.90" y="783" width="6.3" height="18.5" fill="#ff5599"/>
<path d="M535.60 783V801.5M541.70 773V801.5M547.80 773V801.5M553.90 783V801.5" stroke="#fff" stroke-opacity="0.3" stroke-width="0.5"/>
<path d="M545 756.25V801.5" stroke="#555" stroke-width="0.8" stroke-dasharray="1.8 1.6"/>
<text transform="translate(498.75 814.5) scale(1.0645 1)" font-family='"Liberation Sans", sans-serif' font-size="12" font-weight="normal" fill="#111">Accuracy</text>
<text transform="translate(459.3 788.59) rotate(-90) scale(1.1372 1)" font-family='"Liberation Sans", sans-serif' font-size="12" font-weight="normal" fill="#111">Probability</text>
<text transform="translate(475.2 778.04) rotate(-90) scale(1.1333 1)" font-family='"Liberation Sans", sans-serif' font-size="12" font-weight="normal" fill="#111">density</text>
<text transform="translate(494.85 838.75) scale(0.9437 1)" font-family='"Liberation Mono", monospace' font-size="13.6" font-weight="normal" fill="#2b2b2b">interval</text>
</svg>
</body></html>
